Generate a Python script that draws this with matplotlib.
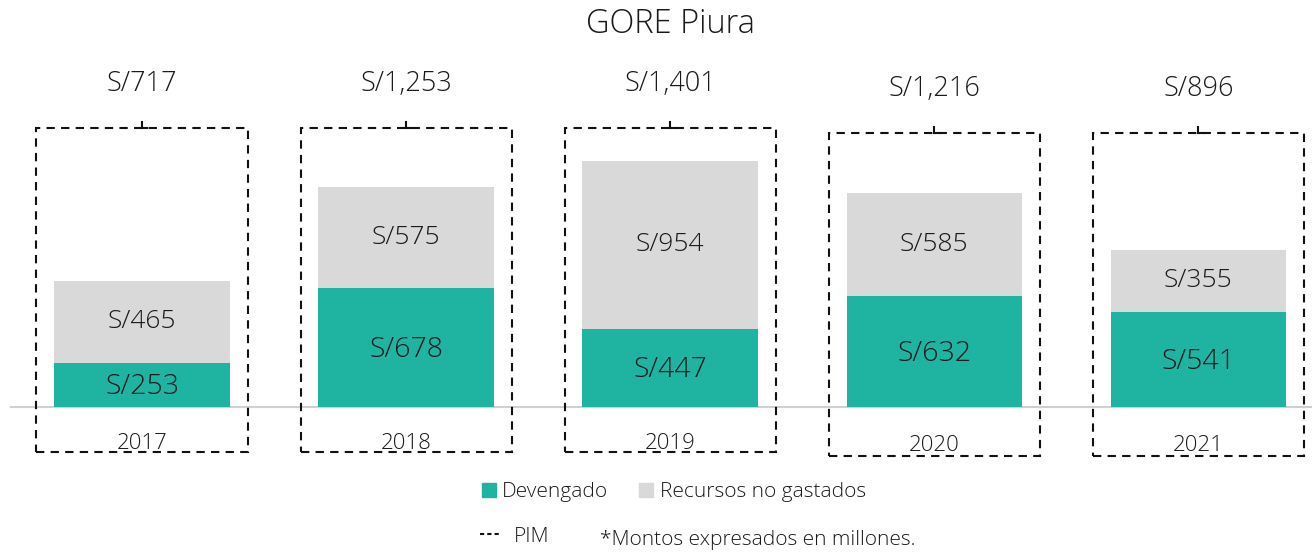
import numpy as np
import matplotlib.pyplot as plt
from matplotlib.patches import Rectangle, Patch
from matplotlib.lines import Line2D

plt.rcParams['font.family'] = ['Open Sans', 'DejaVu Sans']
plt.rcParams['font.weight'] = 'light'

# Data (millones de soles)
years = ['2017', '2018', '2019', '2020', '2021']
devengado = [253, 678, 447, 632, 541]
no_gastado = [465, 575, 954, 585, 355]
pim = [717, 1253, 1401, 1216, 896]

teal = '#1fb3a1'
grey = '#d9d9d9'
txt = '#1a1a1a'

fig = plt.figure(figsize=(13.12, 5.52), dpi=100)
ax = fig.add_axes([10 / 1312, 82 / 552, 1302 / 1312, 410 / 552])

x = np.arange(len(years))
ax.bar(x, devengado, width=0.665, color=teal)
ax.bar(x, no_gastado, width=0.665, bottom=devengado, color=grey)

ax.set_xlim(-0.5, 4.43)
ax.set_ylim(-358, 1975)
ax.axhline(0, color='#d0d0d0', lw=1.5, zorder=0)
ax.axis('off')

# labels inside bars
for i in range(len(years)):
    ax.text(x[i], devengado[i] / 2 - 12, f'S/{devengado[i]:,}', ha='center', va='center',
            fontsize=20.5, color=txt)
    ax.text(x[i], devengado[i] + no_gastado[i] / 2, f'S/{no_gastado[i]:,}',
            ha='center', va='center', fontsize=19, color=txt)

# dashed PIM boxes (decorative, same size for each year)
shift = [0, 0, 0, -28, -28]
for i in range(len(years)):
    top = 1588 + shift[i]
    bot = -256 + shift[i] * 0.8
    ax.add_patch(Rectangle((x[i] - 0.40, bot), 0.80, top - bot, fill=False,
                           ls=(0, (4, 3)), lw=1.5, ec='#111111', clip_on=False))
    ax.plot([x[i], x[i]], [top, top + 35], color='#111111', lw=1.5, clip_on=False)
    ax.plot([x[i], x[i] + 0.02], [top, top], color='#111111', lw=1.5, clip_on=False)
    ax.text(x[i], 1840 + shift[i], f'S/{pim[i]:,}', ha='center', va='center',
            fontsize=19.5, color=txt)
    ax.text(x[i], -205 + shift[i] * 0.5, years[i], ha='center', va='center',
            fontsize=16, color=txt)

fig.text(0.511, 0.956, 'GORE Piura', ha='center', va='center', fontsize=23.5,
         color=txt)

handles = [Patch(color=teal), Patch(color=grey)]
fig.legend(handles, ['Devengado', 'Recursos no gastados'], ncol=2,
           loc='center left', bbox_to_anchor=(0.367, 0.108), frameon=False,
           fontsize=15, handlelength=0.7, handleheight=0.7,
           handletextpad=0.3, columnspacing=1.45, labelcolor=txt,
           borderpad=0, borderaxespad=0)
fig.legend([Line2D([0], [0], color='#111111', ls=(0, (2, 1.5)), lw=1.5)], ['PIM'],
           loc='center left', bbox_to_anchor=(0.366, 0.028), frameon=False,
           fontsize=15, handlelength=1.0, handletextpad=0.6, labelcolor=txt,
           borderpad=0, borderaxespad=0)
fig.text(0.457, 0.022, '*Montos expresados en millones.', ha='left', va='center',
         fontsize=15, color=txt)

plt.savefig('out.png', dpi=100)
plt.close()
